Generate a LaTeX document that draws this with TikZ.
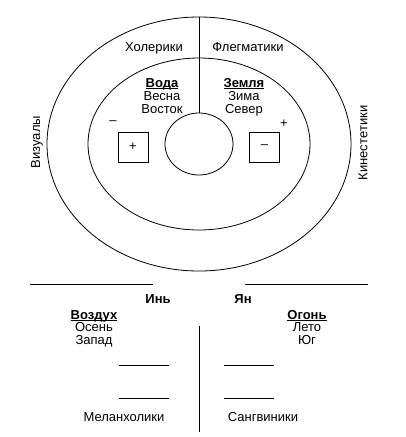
\documentclass[tikz,border=0pt]{standalone}
\usepackage{fontspec}
\setmainfont{Liberation Sans}
\usetikzlibrary{shapes.geometric}
\newcommand{\ulbf}[1]{\setbox0\hbox{\bfseries #1}\rlap{\rule[-1.4pt]{\wd0}{0.8pt}}\box0}
\begin{document}
\begin{tikzpicture}[x=1pt,y=-1pt,
  lbl/.style={inner sep=0pt,font=\fontsize{13}{13}\selectfont},
  bl/.style={lbl,anchor=base},
  ln/.style={line width=0.8pt}]
\useasboundingbox (0,0) rectangle (405,437);
% ellipses
\draw[ln] (199,144) ellipse [x radius=152, y radius=127];
\draw[ln] (199,144) ellipse [x radius=111, y radius=86];
\node[ln,draw,ellipse,minimum width=68pt,minimum height=62pt,inner sep=0pt] (c) at (199,144) {};
\coordinate (top) at (199,17);
\draw[ln] (top) -- (c.north);
% squares
\node[ln,draw,minimum size=30pt,inner sep=0pt,font=\fontsize{13}{13}\selectfont] (sl) at (133,147) {+};
\node[ln,draw,minimum size=30pt,inner sep=0pt,font=\fontsize{13}{13}\selectfont] (sr) at (264.5,147) {--};
\node[lbl] (ml) at (113,123) {--};
\node[lbl] (pr) at (284,124) {+};
% top labels
\node[bl] (hol) at (154,51.5) {Холерики};
\node[bl] (fle) at (248,51.5) {Флегматики};
\node[lbl,rotate=90] (viz) at (37,142) {Визуалы};
\node[lbl,rotate=90] (kin) at (363,143) {Кинестетики};
\node[bl] (voda) at (162,87) {\ulbf{Вода}};
\node[bl] (vesna) at (162,100.5) {Весна};
\node[bl] (vost) at (162,113.5) {Восток};
\node[bl] (zem) at (244,87) {\ulbf{Земля}};
\node[bl] (zima) at (244,100.5) {Зима};
\node[bl] (sev) at (244,113.5) {Север};
% bottom
\coordinate (l1a) at (30,284); \coordinate (l1b) at (153,284);
\coordinate (l2a) at (245,284); \coordinate (l2b) at (368,284);
\draw[ln] (l1a) -- (l1b);
\draw[ln] (l2a) -- (l2b);
\node[bl] (yin) at (158,303.5) {\textbf{Инь}};
\node[bl] (yan) at (243,303.5) {\textbf{Ян}};
\node[bl] (vozd) at (94,319) {\ulbf{Воздух}};
\node[bl] (osen) at (94,331.5) {Осень};
\node[bl] (zap) at (94,344) {Запад};
\node[bl] (ogon) at (307,319) {\ulbf{Огонь}};
\node[bl] (leto) at (307,331.5) {Лето};
\node[bl] (yug) at (307,344) {Юг};
\coordinate (va) at (199,326); \coordinate (vb) at (199,432);
\draw[ln] (va) -- (vb);
\coordinate (s1a) at (119,365); \coordinate (s1b) at (169,365);
\coordinate (s2a) at (119,398); \coordinate (s2b) at (169,398);
\coordinate (s3a) at (224,365); \coordinate (s3b) at (274,365);
\coordinate (s4a) at (224,398); \coordinate (s4b) at (274,398);
\draw[ln] (s1a) -- (s1b); \draw[ln] (s2a) -- (s2b);
\draw[ln] (s3a) -- (s3b); \draw[ln] (s4a) -- (s4b);
\node[bl] (mel) at (124,421.5) {Меланхолики};
\node[bl] (san) at (263,421.5) {Сангвиники};
\end{tikzpicture}
\end{document}
